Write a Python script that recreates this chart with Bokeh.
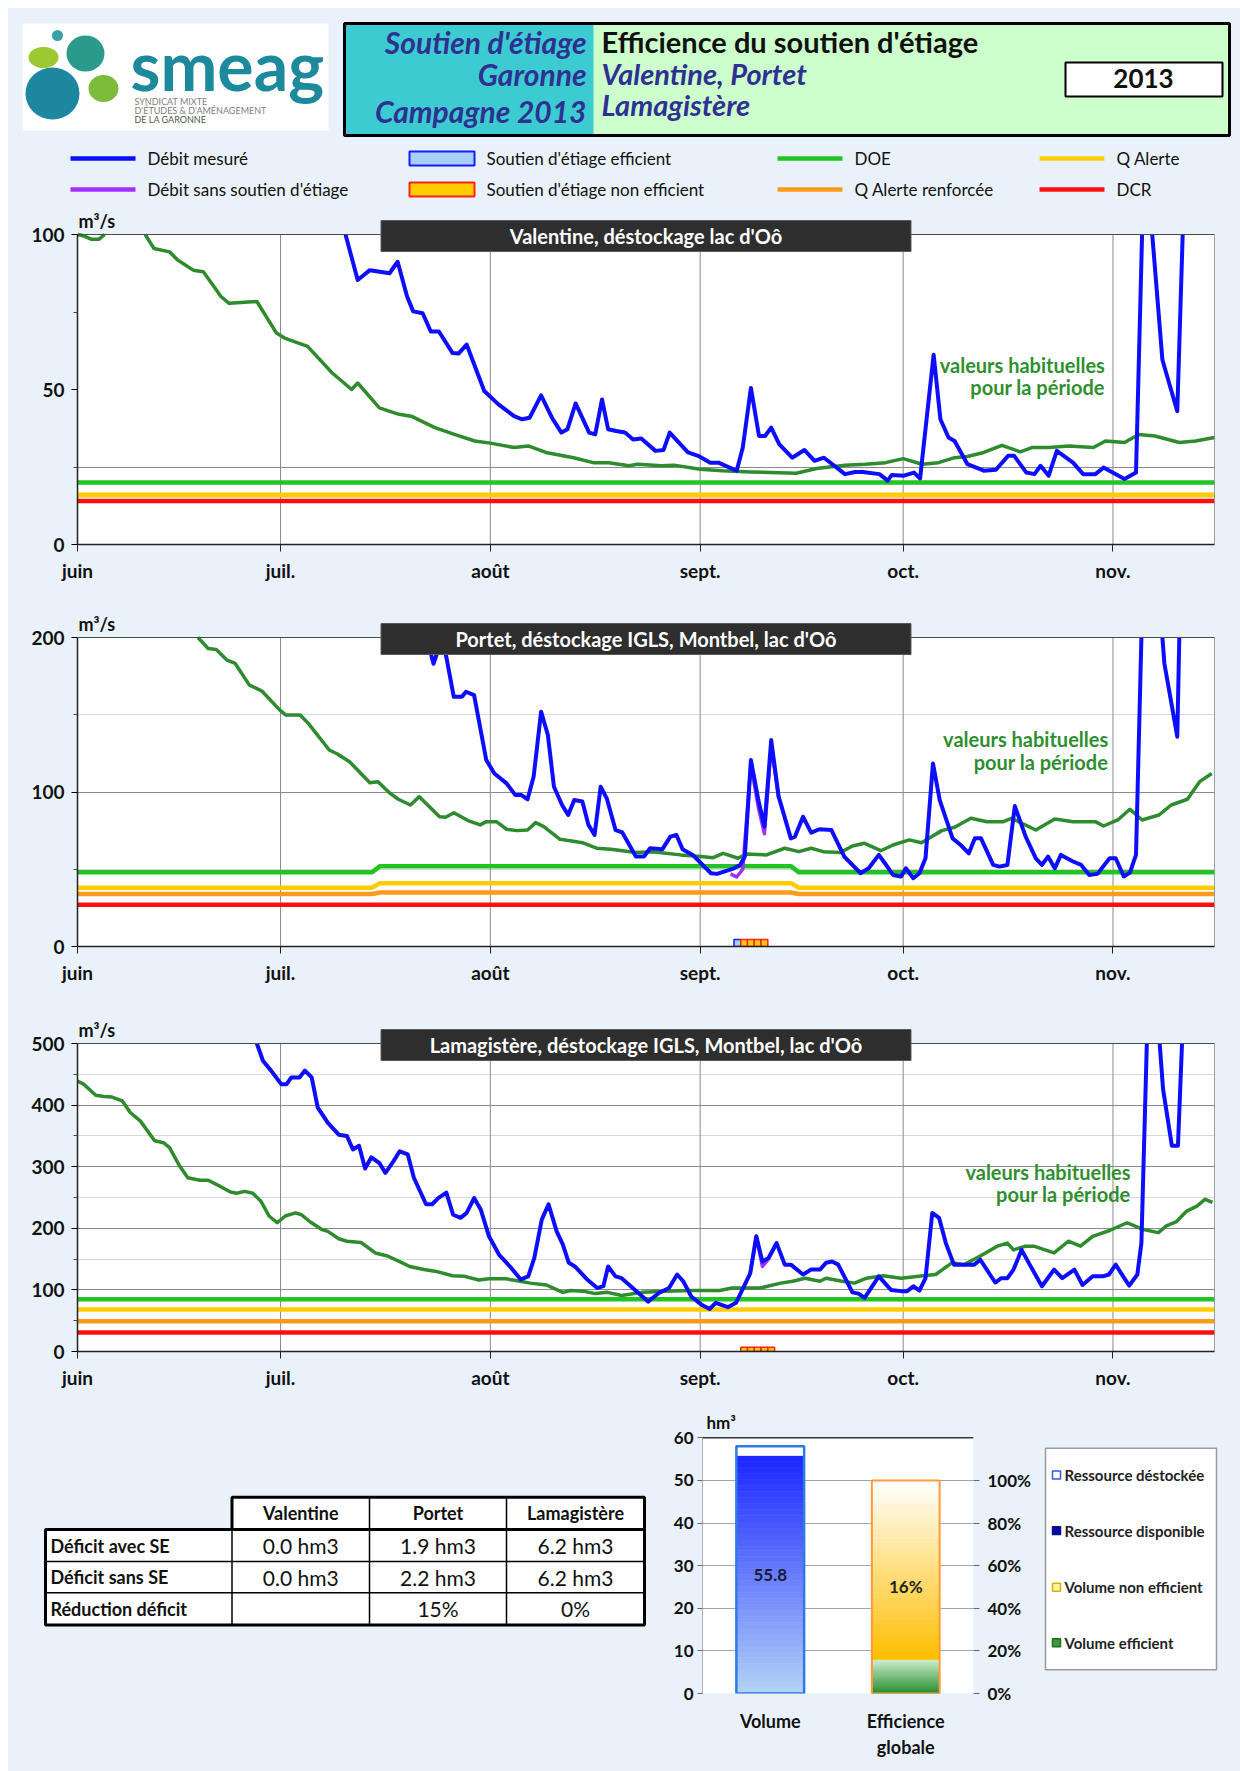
import math
from bokeh.plotting import figure
from bokeh.models import Range1d, FactorRange, FixedTicker, LinearAxis, Label, BoxAnnotation, Span
from bokeh.layouts import row
from bokeh.embed import file_html
from bokeh.resources import INLINE
from bokeh.core.properties import value

BG = "#e9f2fb"
FONT = "Lato"
NAVY = "#2e3192"
BLUE = "#0d0dff"
PURPLE = "#a030ff"
DKGREEN = "#2e8b2e"
C_DOE = "#22c322"
C_QA = "#ffcc00"
C_QAR = "#ff9a1a"
C_DCR = "#ff1010"

# ---------------- data ----------------
MONTH_DAYS = [0, 30, 61, 92, 122, 153]          # days since 1 June
MONTH_LABELS = ["juin", "juil.", "août", "sept.", "oct.", "nov."]
DAY_END = 168

# Chart 1 : Valentine (m3/s) ; None = gap (off scale)
C1_GREEN = [(0, 100), (1, 99.5), (2, 98.5), (3.2, 98.5), (4, 100), None, (10, 100), (11.3, 95.5), (13.6, 94.4),
            (14.8, 91.8), (17.1, 88.5), (18.6, 88.0), (21.2, 80.0), (22.4, 77.8), (26.5, 78.4), (29.4, 68.2),
            (30.6, 66.6), (34.0, 63.9), (37.6, 55.4), (40.5, 50.0), (41.4, 52.1), (44.6, 44.1), (47.5, 42.0),
            (49.3, 41.4), (52.8, 37.7), (55.7, 35.5), (58.7, 33.4), (61.0, 32.7), (64.5, 31.3), (66.6, 31.8),
            (69.2, 29.7), (73.3, 28.0), (76.2, 26.4), (78.5, 26.4), (81.5, 25.4), (82.7, 25.9), (86.3, 25.4),
            (88.1, 25.6), (92.0, 24.3), (95.3, 23.8), (99.5, 23.4), (106.2, 23.0), (109.2, 24.5), (113.4, 25.6),
            (116.4, 25.9), (119.4, 26.4), (122.0, 27.7), (124.8, 25.9), (127.2, 26.4), (129.6, 28.0),
            (131.5, 28.4), (133.9, 29.7), (136.6, 32.0), (139.3, 29.9), (141.1, 31.3), (143.5, 31.3),
            (146.5, 31.8), (150.1, 31.3), (151.9, 33.4), (154.7, 32.9), (156.8, 35.5), (159.2, 35.0),
            (162.8, 32.9), (165.2, 33.4), (168.0, 34.5)]
C1_BLUE = [(39.6, 100), (41.4, 85.3), (43.2, 88.5), (46.1, 87.5), (47.3, 91.2), (48.7, 80), (49.6, 75.2),
           (51, 74.6), (52.2, 68.7), (53.4, 68.7), (55.4, 61.8), (56.3, 61.6), (57.5, 64.5), (60.1, 49.5),
           (62.2, 45.2), (64.5, 41.4), (65.7, 40.4), (66.8, 40.9), (68.5, 48.1), (70.1, 40.9), (71.5, 36.1),
           (72.4, 37.2), (73.6, 45.5), (75.6, 36.1), (76.5, 35.5), (77.5, 46.8), (78.4, 37.2), (79.6, 36.6),
           (80.9, 36.1), (82.1, 33.9), (83.3, 34.2), (85.4, 30.2), (86.6, 30.5), (87.5, 36.1), (90.2, 29.7),
           (91.7, 28.6), (93.5, 26.4), (94.7, 26.4), (97.4, 23.8), (98.3, 31.3), (99.5, 50.5), (100.7, 35),
           (101.6, 35), (102.5, 37.7), (103.7, 32.3), (105.6, 28), (107.4, 30.5), (108.9, 27), (110.3, 28),
           (113.4, 22.7), (114.9, 23.4), (116, 23.4), (118.5, 22.7), (119.7, 20.6), (120.3, 22.4),
           (122.1, 22.2), (123.6, 23.2), (124.5, 21.3), (126.5, 61.2), (127.5, 40.4), (128.7, 34.5),
           (129.6, 33.4), (131.5, 25.9), (133.9, 23.8), (135.7, 24.1), (137.5, 28.6), (138.4, 28.6),
           (140.2, 23.2), (141.4, 22.7), (142.3, 25.4), (143.5, 22.2), (144.7, 30.2), (147.1, 26.4),
           (148.6, 22.7), (150.4, 22.7), (151.6, 24.8), (154.7, 21.1), (156.4, 23.2), (157.3, 100), None,
           (158.8, 100), (160.3, 59.6), (162.5, 43), (163.3, 100)]
C1_DOE = [(0, 20), (168, 20)]
C1_QA = [(0, 16), (168, 16)]
C1_QAR = [(0, 16), (168, 16)]
C1_DCR = [(0, 14), (168, 14)]

# Chart 2 : Portet
C2_GREEN = [(17.8, 200), (19.3, 192.9), (20.5, 192.2), (22.1, 185.3), (23.3, 183.2), (25.4, 169.2),
            (27.2, 165.5), (29.9, 153), (30.8, 149.8), (32.9, 149.8), (34.1, 144.4), (37.2, 127.2),
            (38.4, 124.6), (40.2, 119.6), (43.2, 106), (44.4, 106.7), (46.2, 99.1), (47.4, 95.3), (49.2, 91.6),
            (50.5, 97), (53.5, 84), (54.4, 83.6), (55.6, 86.6), (57.7, 81.5), (59.5, 78.7), (60.4, 80.8),
            (61.9, 80.8), (63.4, 75.9), (64.9, 75), (66.5, 75.4), (67.7, 80.2), (68.9, 77.6), (71.3, 69.4),
            (72.8, 68.5), (74.6, 67.2), (76.7, 63.6), (78.8, 62.9), (82.5, 60.8), (84.9, 61.4), (89.1, 59.3),
            (92.1, 58.2), (93.9, 57.5), (95.4, 60.3), (97.6, 57.1), (98.8, 59.9), (101.8, 59.3), (104.5, 63.6),
            (106.6, 61.4), (108.4, 63.6), (110.2, 61.4), (112.7, 60.8), (114.5, 65.1), (116.3, 66.8),
            (118.7, 62), (120.5, 65.7), (122.9, 69), (124.7, 67.2), (127.7, 75), (129.6, 77.2), (132, 83),
            (134.4, 80.8), (136.8, 80.8), (138, 83), (141.6, 75.4), (144.4, 82.5), (147.1, 80.8),
            (150.4, 80.8), (151.6, 78), (153.7, 81.9), (155.5, 88.8), (157.3, 81.9), (159.8, 85.1),
            (161.6, 91.6), (164, 95.3), (165.8, 106.7), (167.6, 112)]
C2_BLUE = [(51.6, 200), (52.6, 183), (53.7, 197), (54.3, 192), (55.6, 161.6), (56.8, 161.6), (57.4, 164.9),
           (58.6, 162.7), (60.4, 120.7), (61.6, 112), (63.4, 105.6), (64.7, 98), (65.6, 98), (66.5, 95.3),
           (67.4, 110), (68.5, 152), (69.5, 136.9), (70.4, 103.4), (71.6, 91.6), (72.5, 85.1), (73.4, 94.8),
           (74.6, 93.8), (75.5, 78.7), (76.4, 72.2), (77.3, 103.4), (78.2, 95.9), (79.5, 75.4), (80.5, 73.8),
           (82.5, 58.2), (83.7, 58.2), (84.6, 63.6), (86.4, 62.9), (87.6, 71.1), (88.5, 72.2), (89.4, 62.9),
           (90.9, 59.3), (93.6, 47.4), (94.5, 47), (97, 50.6), (97.9, 52.8), (98.6, 58.2), (99.5, 120.7),
           (100.6, 94.8), (101.5, 77.6), (102.5, 133.6), (103.6, 97), (105.4, 70), (106, 71.1), (107.2, 84),
           (108.4, 73.7), (109.6, 75.9), (111.4, 75.4), (113.3, 58.2), (115.7, 47.4), (116.9, 50.6),
           (118.4, 59.3), (119.3, 53.9), (120.5, 46.3), (121.7, 45.3), (122.4, 50.6), (123.5, 44.2),
           (124.4, 47.4), (125.3, 57.1), (126.4, 118.5), (127.4, 94.8), (129.3, 70), (130.5, 65.7),
           (131.7, 60.3), (132.6, 70), (133.5, 70), (135.3, 52.8), (136.2, 51.7), (137.4, 52.8), (138.5, 90.9),
           (140.1, 71.1), (141.6, 57.1), (142.5, 52.8), (143.4, 58.2), (144.4, 50.6), (145.3, 59.3),
           (147.1, 55), (148.3, 52.8), (149.5, 46.3), (150.7, 47), (152.5, 57.1), (153.4, 57.1),
           (154.6, 45.3), (155.5, 47.8), (156.4, 59.3), (157.2, 200), None, (160.3, 200), (160.6, 183),
           (162.5, 135.8), (162.8, 200)]
C2_PURPLE = [(96.5, 47), (97.4, 45), (98.3, 50), (99.5, 118), (100.6, 90), (101.5, 73), (102.5, 130), (103.6, 96)]
C2_DOE = [(0, 48), (43.5, 48), (44.7, 52), (105.4, 52), (106.6, 48), (168, 48)]
C2_QA = [(0, 38), (43.5, 38), (44.7, 41), (105.4, 41), (106.6, 38), (168, 38)]
C2_QAR = [(0, 34), (43.5, 34), (44.7, 35), (105.4, 35), (106.6, 34), (168, 34)]
C2_DCR = [(0, 27), (168, 27)]
C2_EFF_DAYS = [97]
C2_NEFF_DAYS = [98, 99, 100, 101]
C2_BAR_H = 4.5

# Chart 3 : Lamagistère
C3_GREEN = [(0, 439), (0.9, 434), (2.7, 416), (3.9, 414), (5.1, 413), (6.6, 407), (7.8, 388), (9.3, 374),
            (11.4, 342), (12.7, 339), (13.6, 331), (15.1, 301), (16.3, 282), (18.1, 278), (19.3, 278),
            (21.1, 268), (22.6, 259), (23.5, 257), (24.7, 260), (25.9, 257), (27.1, 244), (28.3, 220),
            (29.5, 209), (30.7, 220), (32.2, 225), (33.1, 222), (34.3, 211), (36.1, 198), (37, 195), (38.6, 183),
            (39.8, 179), (41.9, 177), (44, 160), (45.8, 155), (47.6, 146), (49.1, 138), (51.2, 133), (53, 130),
            (55.4, 123), (57.2, 122), (59.3, 116), (60.8, 118), (63.3, 118), (65.4, 114), (66.9, 111),
            (69.3, 108), (71.7, 96), (72.9, 99), (74.7, 98), (76.5, 94), (78.3, 96), (80.4, 91), (83.4, 96),
            (87.1, 98), (90.7, 99), (94.9, 99), (96.7, 103), (100.9, 103), (103.9, 111), (105.7, 114),
            (107.5, 119), (109.7, 114), (110.6, 119), (113, 114), (114.8, 111), (116.6, 119), (119, 123),
            (121.7, 119), (125, 123), (126.8, 125), (129.2, 144), (131, 141), (133.4, 155), (135.9, 171),
            (137.4, 176), (138.3, 165), (140.1, 171), (141.3, 171), (144.3, 160), (146.4, 179), (148.2, 171),
            (150, 187), (152.4, 196), (155.1, 209), (157.5, 198), (159.7, 193), (160.9, 204), (162.4, 211),
            (163.9, 228), (165.4, 236), (166.6, 247), (167.7, 242)]
C3_BLUE = [(26.5, 500), (27.4, 472), (28.6, 456), (30.1, 434), (30.9, 434), (31.6, 445), (32.8, 445),
           (33.6, 456), (34.6, 445), (35.5, 396), (37, 371), (38.6, 352), (39.8, 350), (40.7, 328), (41.6, 334),
           (42.5, 297), (43.4, 315), (44.6, 306), (45.5, 290), (46.7, 309), (47.6, 325), (48.8, 320),
           (49.7, 282), (51.5, 239), (52.4, 239), (53.3, 249), (54.5, 258), (55.5, 222), (56.6, 217),
           (57.5, 225), (58.6, 249), (59.6, 230), (60.8, 187), (62.3, 157), (63.9, 138), (65.5, 117),
           (66.6, 122), (67.5, 152), (68.6, 214), (69.6, 239), (70.8, 195), (71.7, 174), (72.6, 144),
           (73.5, 138), (75.3, 117), (76.8, 103), (77.7, 106), (78.4, 138), (79.5, 122), (80.4, 119),
           (84.3, 81), (85.9, 95), (87.4, 103), (88.6, 125), (89.5, 114), (90.7, 89), (92.2, 76), (93.4, 69),
           (94.3, 79), (96.1, 72), (97.3, 79), (99.4, 127), (100.3, 187), (101.2, 146), (102.1, 152),
           (103.3, 176), (104.5, 141), (105.4, 141), (107.2, 125), (108.4, 133), (109.7, 133), (110.6, 144),
           (111.5, 146), (112.4, 141), (114.5, 96), (115.4, 94), (116.3, 87), (118.4, 122), (120.2, 100),
           (121.7, 98), (122.6, 98), (123.5, 106), (124.4, 99), (125.3, 119), (126.3, 225), (127.3, 217),
           (128.3, 176), (129.5, 141), (130.7, 141), (132.5, 141), (133.4, 149), (134.7, 127), (135.6, 112),
           (136.5, 119), (137.4, 119), (138.3, 133), (139.5, 165), (140.7, 141), (142.5, 106), (144.3, 133),
           (145.5, 119), (147.3, 133), (148.5, 108), (150, 122), (151.5, 122), (152.4, 125), (153.4, 141),
           (154.5, 122), (155.4, 107), (156.6, 125), (157.2, 176), (158, 500), None, (159.9, 500),
           (160.4, 426), (161.7, 334), (162.6, 334), (163.2, 500)]
C3_PURPLE = [(99.4, 127), (100.3, 187), (101.2, 138), (102.1, 150), (103.3, 176)]
C3_DOE = [(0, 85), (168, 85)]
C3_QA = [(0, 68), (168, 68)]
C3_QAR = [(0, 49), (168, 49)]
C3_DCR = [(0, 31), (168, 31)]
C3_NEFF_DAYS = [98, 99, 100, 101, 102]
C3_BAR_H = 7

# Table
TABLE_COLS = ["Valentine", "Portet", "Lamagistère"]
TABLE_ROWS = ["Déficit avec SE", "Déficit sans SE", "Réduction déficit"]
DEFICIT_AVEC = [0.0, 1.9, 6.2]
DEFICIT_SANS = [0.0, 2.2, 6.2]
REDUCTION = [None, 15, 0]

# Bar chart
BAR_CATS = ["Volume", "Efficience\nglobale"]
VOL_TOTAL = 58.0
VOL_DESTOCKE = 55.8
EFFICIENCE = 16
LEFT_TICKS = [0, 10, 20, 30, 40, 50, 60]
PCT_TICKS = [0, 20, 40, 60, 80, 100]

# ---------------- helpers ----------------
NaN = float("nan")


def split(pairs):
    xs, ys = [], []
    for pt in pairs:
        if pt is None:
            xs.append(NaN)
            ys.append(NaN)
        else:
            xs.append(pt[0])
            ys.append(pt[1])
    return xs, ys


def mix(c1, c2, t):
    a = [int(c1[i:i + 2], 16) for i in (1, 3, 5)]
    b = [int(c2[i:i + 2], 16) for i in (1, 3, 5)]
    return "#%02x%02x%02x" % tuple(round(a[i] + (b[i] - a[i]) * t) for i in range(3))


def lab(p, x, y, s, size="15px", color="#111111", style="normal", align="left", baseline="middle",
        font=FONT, **kw):
    p.add_layout(Label(x=x, y=y, text=s, text_font=font, text_font_size=size, text_font_style=style,
                       text_color=color, text_align=align, text_baseline=baseline, **kw))


def page_fig(x0, x1, y0, y1, bottom=0):
    # frame covers page area x0..x1, y0..y1 (page pixel coordinates, y downwards)
    p = figure(width=int(x1 - x0), height=int(y1 - y0 + bottom), x_range=Range1d(x0, x1),
               y_range=Range1d(y1, y0), output_backend="svg", toolbar_location=None, title=None,
               x_axis_type=None, y_axis_type=None, min_border_left=0, min_border_right=0, min_border_top=0,
               min_border_bottom=bottom, background_fill_color=BG, border_fill_color=BG,
               outline_line_color=None)
    return p


def make_chart(title, ymax, ytick_vals, yminor, grid_major, grid_minor, thresholds, green, blue, purple,
               eff_days, neff_days, bar_h, note_x, note_y, height, top, bottom):
    left, right = 69, 18
    ph = height - top - bottom
    upp = ymax / ph
    dpp = DAY_END / (1224 - left - right)
    p = figure(width=1224, height=height, x_range=Range1d(0, DAY_END), y_range=Range1d(0, ymax + top * upp),
               output_backend="svg", toolbar_location=None, title=None,
               min_border_left=left, min_border_right=right, min_border_top=0, min_border_bottom=bottom,
               background_fill_color=BG, border_fill_color=BG, outline_line_color=None)
    p.add_layout(BoxAnnotation(left=0, right=DAY_END, bottom=0, top=ymax, fill_color="white", fill_alpha=1.0,
                               line_color=None, level="image"))
    xa = p.xaxis[0]
    xa.ticker = FixedTicker(ticks=MONTH_DAYS)
    xa.major_label_overrides = {d: m for d, m in zip(MONTH_DAYS, MONTH_LABELS)}
    xa.major_tick_out = 7
    xa.major_tick_in = 0
    xa.minor_tick_line_color = None
    xa.axis_line_color = "#222222"
    xa.axis_line_width = 1.5
    xa.major_tick_line_color = "#222222"
    xa.major_label_text_font = FONT
    xa.major_label_text_font_size = "19px"
    xa.major_label_text_font_style = "bold"
    xa.major_label_text_color = "#111111"
    xa.major_label_standoff = 7
    ya = p.yaxis[0]
    ya.bounds = (0, ymax)
    ya.ticker = FixedTicker(ticks=ytick_vals, minor_ticks=yminor)
    ya.major_tick_out = 6
    ya.major_tick_in = 0
    ya.minor_tick_out = 4
    ya.minor_tick_in = 0
    ya.minor_tick_line_color = "#444444"
    ya.axis_line_color = "#222222"
    ya.axis_line_width = 1.5
    ya.major_label_text_font = FONT
    ya.major_label_text_font_size = "19px"
    ya.major_label_text_font_style = "bold"
    ya.major_label_text_color = "#111111"
    ya.major_label_standoff = 7
    p.xgrid.grid_line_color = None
    p.ygrid.ticker = FixedTicker(ticks=grid_major, minor_ticks=grid_minor)
    p.ygrid.grid_line_color = "#8a8a8a"
    p.ygrid.minor_grid_line_color = "#d8d8d8" if grid_minor else None

    months = MONTH_DAYS[1:]
    p.segment(x0=months, y0=[0] * len(months), x1=months, y1=[ymax] * len(months),
              line_color="#8a8a8a", line_width=1)
    for pairs, color in thresholds:
        xs, ys = split(pairs)
        p.line(xs, ys, line_color=color, line_width=4.5)
    if eff_days:
        p.vbar(x=[d + 0.5 for d in eff_days], width=1, bottom=0, top=bar_h,
               fill_color="#a8d0ff", line_color="#1a1aff", line_width=1.5)
    if neff_days:
        p.vbar(x=[d + 0.5 for d in neff_days], width=1, bottom=0, top=bar_h,
               fill_color="#ffcc00", line_color="#ff2020", line_width=1.5)
    xs, ys = split(green)
    p.line(xs, ys, line_color=DKGREEN, line_width=3.5, line_join="round")
    if purple:
        xs, ys = split(purple)
        p.line(xs, ys, line_color=PURPLE, line_width=3.5, line_join="round")
    xs, ys = split(blue)
    p.line(xs, ys, line_color=BLUE, line_width=4, line_join="round")
    p.quad(left=[0], right=[DAY_END], bottom=[0], top=[ymax], fill_color=None, line_color="#4a4a4a",
           line_width=1)

    # title box
    p.quad(left=[DAY_END / 2 - 265 * dpp], right=[DAY_END / 2 + 265 * dpp], top=[ymax + 14 * upp],
           bottom=[ymax - 17 * upp], fill_color="#2e2e2e", line_color="#5a5a5a", line_width=1)
    lab(p, DAY_END / 2, ymax - 1.5 * upp, title, size="20px", color="white", style="bold", align="center")
    lab(p, 0, ymax + 3 * upp, "m³/s", size="18px", style="bold", baseline="bottom", x_offset=1)
    lab(p, note_x, note_y[0], "valeurs habituelles", size="20px", color="#2f8f2f", style="bold", align="right")
    lab(p, note_x, note_y[1], "pour la période", size="20px", color="#2f8f2f", style="bold", align="right")
    return p


# ---------------- header ----------------
pH = page_fig(8, 1232, 8, 208)
pH.quad(left=[22], right=[328], top=[23], bottom=[130], fill_color="white", line_color=None)
pH.ellipse(x=[52, 85, 43, 103, 57], y=[93, 53, 57, 88, 35], width=[54, 38, 30, 30, 11],
           height=[52, 36, 21, 27, 11],
           fill_color=["#1e87a0", "#2a9a8a", "#9cc832", "#7dbb3a", "#3aa0a8"], line_color=None)
lab(pH, 130, 64, "smeag", size="68px", color="#1c8a9c", style="bold", baseline="middle")
lab(pH, 134, 101, "SYNDICAT MIXTE", size="9px", color="#808080")
lab(pH, 134, 110, "D'ÉTUDES & D'AMÉNAGEMENT", size="9px", color="#808080")
lab(pH, 134, 119, "DE LA GARONNE", size="9px", color="#555555")

pH.quad(left=[344], right=[1229], top=[23], bottom=[135], fill_color="#ccffcc", line_color=None)
pH.quad(left=[344], right=[593], top=[23], bottom=[135], fill_color="#3ccbd0", line_color=None)
pH.quad(left=[344], right=[1229], top=[23], bottom=[135], fill_color=None, line_color="black", line_width=3)
lab(pH, 586, 41, "Soutien d'étiage", size="30px", color=NAVY, style="bold italic", align="right")
lab(pH, 586, 73, "Garonne", size="30px", color=NAVY, style="bold italic", align="right")
lab(pH, 586, 110, "Campagne 2013", size="30px", color=NAVY, style="bold italic", align="right")
lab(pH, 601, 41, "Efficience du soutien d'étiage", size="29px", color="#111111", style="bold")
lab(pH, 601, 73, "Valentine, Portet", size="29px", color=NAVY, style="bold italic")
lab(pH, 601, 104, "Lamagistère", size="29px", color=NAVY, style="bold italic")
pH.quad(left=[1065], right=[1222], top=[62], bottom=[96], fill_color="white", line_color="black", line_width=2)
lab(pH, 1143, 78, "2013", size="26px", style="bold", align="center")

# legend
LEG_COLS = [70, 409, 777, 1039]
LEG_ROWS = [158, 189]
legend_items = [
    (0, 0, "Débit mesuré", "line", BLUE, None),
    (0, 1, "Débit sans soutien d'étiage", "line", PURPLE, None),
    (1, 0, "Soutien d'étiage efficient", "box", "#a8d0ff", "#1a1aff"),
    (1, 1, "Soutien d'étiage non efficient", "box", "#ffcc00", "#ff2020"),
    (2, 0, "DOE", "line", C_DOE, None),
    (2, 1, "Q Alerte renforcée", "line", C_QAR, None),
    (3, 0, "Q Alerte", "line", C_QA, None),
    (3, 1, "DCR", "line", C_DCR, None),
]
for ci, ri, text, kind, c1, c2 in legend_items:
    x0 = LEG_COLS[ci]
    y0 = LEG_ROWS[ri]
    if kind == "line":
        pH.line([x0, x0 + 65], [y0, y0], line_color=c1, line_width=4.5)
    else:
        pH.quad(left=[x0], right=[x0 + 65], top=[y0 - 7], bottom=[y0 + 7], fill_color=c1, line_color=c2,
                line_width=2)
    lab(pH, x0 + 77, y0, text, size="17px", color="#111111")

# ---------------- charts ----------------
p1 = make_chart("Valentine, déstockage lac d'Oô", 100, [0, 50, 100], [25, 75], [25], [],
                [(C1_DCR, C_DCR), (C1_QAR, C_QAR), (C1_QA, C_QA), (C1_DOE, C_DOE)],
                C1_GREEN, C1_BLUE, None, [], [], 0, 151.8, [57.8, 50.7], 382, 26, 46)
p2 = make_chart("Portet, déstockage IGLS, Montbel, lac d'Oô", 200, [0, 100, 200], [50, 150], [100], [50, 150],
                [(C2_DCR, C_DCR), (C2_QAR, C_QAR), (C2_QA, C_QA), (C2_DOE, C_DOE)],
                C2_GREEN, C2_BLUE, C2_PURPLE, C2_EFF_DAYS, C2_NEFF_DAYS, C2_BAR_H, 152.3, [134.3, 119.7],
                400, 47, 44)
p3 = make_chart("Lamagistère, déstockage IGLS, Montbel, lac d'Oô", 500, [0, 100, 200, 300, 400, 500],
                [50, 150, 250, 350, 450], [100, 200, 300, 400], [50, 150, 250, 350, 450],
                [(C3_DCR, C_DCR), (C3_QAR, C_QAR), (C3_QA, C_QA), (C3_DOE, C_DOE)],
                C3_GREEN, C3_BLUE, C3_PURPLE, [], C3_NEFF_DAYS, C3_BAR_H, 155.6, [291.9, 255.2],
                410, 53, 49)

# ---------------- bottom row (all with identical top/bottom borders) ----------------
BOT_BORDER = 65
pA = page_fig(8, 650, 1400, 1695, bottom=BOT_BORDER)
COLX = [45, 231.5, 369, 506, 644]
ROWY = [1497.5, 1530, 1562, 1593.5, 1626]
pA.quad(left=[COLX[1]], right=[COLX[4]], top=[ROWY[0]], bottom=[ROWY[1]], fill_color="white", line_color=None)
pA.quad(left=[COLX[0]], right=[COLX[4]], top=[ROWY[1]], bottom=[ROWY[4]], fill_color="white", line_color=None)
for xv in COLX[1:4]:
    pA.line([xv, xv], [ROWY[0], ROWY[4]], line_color="black", line_width=1.5)
for yv in ROWY[2:4]:
    pA.line([COLX[0], COLX[4]], [yv, yv], line_color="black", line_width=1.5)
pA.quad(left=[COLX[1]], right=[COLX[4]], top=[ROWY[0]], bottom=[ROWY[1]], fill_color=None,
        line_color="black", line_width=3)
pA.quad(left=[COLX[0]], right=[COLX[4]], top=[ROWY[1]], bottom=[ROWY[4]], fill_color=None,
        line_color="black", line_width=3)
for j, name in enumerate(TABLE_COLS):
    lab(pA, (COLX[j + 1] + COLX[j + 2]) / 2, (ROWY[0] + ROWY[1]) / 2, name, size="18px", style="bold",
        align="center")
cells = [[f"{v:.1f} hm3" for v in DEFICIT_AVEC], [f"{v:.1f} hm3" for v in DEFICIT_SANS],
         ["" if v is None else f"{v}%" for v in REDUCTION]]
for i, rname in enumerate(TABLE_ROWS):
    yc = (ROWY[i + 1] + ROWY[i + 2]) / 2
    lab(pA, COLX[0] + 5, yc, rname, size="18px", style="bold")
    for j in range(3):
        if cells[i][j]:
            lab(pA, (COLX[j + 1] + COLX[j + 2]) / 2, yc, cells[i][j], size="21px", color="#111111",
                align="center")

# bar chart: frame spans page y 1400..1695, value 60 sits 37.6 px below the frame top
B_TOP = 37.6
B_PH = 295 - B_TOP
b_upp = 60 / B_PH
b_end = 60 + B_TOP * b_upp
pB = figure(width=390, height=360, x_range=FactorRange(*BAR_CATS), y_range=Range1d(0, b_end),
            output_backend="svg", toolbar_location=None, title=None,
            min_border_left=52, min_border_right=67, min_border_top=0, min_border_bottom=BOT_BORDER,
            background_fill_color=BG, border_fill_color=BG, outline_line_color=None)
pB.extra_y_ranges = {"pct": Range1d(0, b_end * 2)}
ax_r = LinearAxis(y_range_name="pct")
pB.add_layout(ax_r, "right")
pB.add_layout(BoxAnnotation(bottom=0, top=60, fill_color="white", fill_alpha=1.0, line_color=None,
                            level="image"))
pB.xgrid.grid_line_color = None
pB.ygrid.ticker = FixedTicker(ticks=[10, 20, 30, 40, 50])
pB.ygrid.grid_line_color = "#a6a6a6"
pB.add_layout(Span(location=60, dimension="width", line_color="#333333", line_width=1.5))

N = 40
vb = [VOL_DESTOCKE * i / N for i in range(N)]
vt = [VOL_DESTOCKE * (i + 1) / N for i in range(N)]
vc = [mix("#b3d3f7", "#1a26ff", (i + 0.5) / N) for i in range(N)]
pB.vbar(x=[BAR_CATS[0]] * N, width=0.5, bottom=vb, top=vt, fill_color=vc, line_color=vc, line_width=0.6)
pB.vbar(x=[BAR_CATS[0]], width=0.5, bottom=[VOL_DESTOCKE], top=[VOL_TOTAL], fill_color="white", line_color=None)
pB.vbar(x=[BAR_CATS[0]], width=0.5, bottom=0, top=[VOL_TOTAL], fill_color=None, line_color="#2d7be6",
        line_width=2.5)

gb = [EFFICIENCE * i / N for i in range(N)]
gt = [EFFICIENCE * (i + 1) / N for i in range(N)]
gc = [mix("#1e8a28", "#cdeecd", (i + 0.5) / N) for i in range(N)]
pB.vbar(x=[BAR_CATS[1]] * N, width=0.5, bottom=gb, top=gt, fill_color=gc, line_color=gc, line_width=0.6,
        y_range_name="pct")
ob = [EFFICIENCE + (100 - EFFICIENCE) * i / N for i in range(N)]
ot = [EFFICIENCE + (100 - EFFICIENCE) * (i + 1) / N for i in range(N)]
oc = [mix("#ffbe00", "#ffffff", (i + 0.5) / N) for i in range(N)]
pB.vbar(x=[BAR_CATS[1]] * N, width=0.5, bottom=ob, top=ot, fill_color=oc, line_color=oc, line_width=0.6,
        y_range_name="pct")
pB.vbar(x=[BAR_CATS[1]], width=0.5, bottom=0, top=[100], fill_color=None, line_color="#ff9a3c", line_width=2,
        y_range_name="pct")
pB.text(x=[BAR_CATS[0]], y=[VOL_DESTOCKE / 2], text=[f"{VOL_DESTOCKE:.1f}"], text_align="center",
        text_baseline="middle", text_font=value(FONT), text_font_size=value("17px"), text_font_style="bold",
        text_color="#1a1a3a")
pB.text(x=[BAR_CATS[1]], y=[100 / 2], text=[f"{EFFICIENCE}%"], text_align="center", text_baseline="middle",
        text_font=value(FONT), text_font_size=value("17px"), text_font_style="bold", text_color="#222222",
        y_range_name="pct")

ya = pB.yaxis[0]
ya.bounds = (0, 60)
ya.ticker = FixedTicker(ticks=LEFT_TICKS)
ya.axis_line_color = "#b0b0b0"
ya.major_tick_out = 5
ya.major_tick_in = 0
ya.major_tick_line_color = "#666666"
ya.minor_tick_line_color = None
ya.major_label_text_font = FONT
ya.major_label_text_font_size = "17px"
ya.major_label_text_font_style = "bold"
ya.major_label_text_color = "#111111"
ya.major_label_standoff = 4
ax_r.ticker = FixedTicker(ticks=PCT_TICKS)
ax_r.major_label_overrides = {t: f"{t}%" for t in PCT_TICKS}
ax_r.axis_line_color = None
ax_r.major_tick_out = 6
ax_r.major_tick_in = 0
ax_r.major_tick_line_color = "#666666"
ax_r.minor_tick_line_color = None
ax_r.major_label_text_font = FONT
ax_r.major_label_text_font_size = "17px"
ax_r.major_label_text_font_style = "bold"
ax_r.major_label_text_color = "#111111"
ax_r.major_label_standoff = 8
xa = pB.xaxis[0]
xa.axis_line_color = None
xa.major_tick_line_color = None
xa.minor_tick_line_color = None
xa.major_label_text_font = FONT
xa.major_label_text_font_size = "18px"
xa.major_label_text_font_style = "bold"
xa.major_label_text_color = "#111111"
xa.major_label_standoff = 10
lab(pB, 0, 60, "hm³", size="17px", style="bold", baseline="bottom", x_offset=4, y_offset=5)

# legend of the bar chart
pC = page_fig(1040, 1232, 1400, 1695, bottom=BOT_BORDER)
pC.quad(left=[1045], right=[1216], top=[1448], bottom=[1671], fill_color="white", line_color="#9a9a9a",
        line_width=1.5)
BAR_LEGEND = ["Ressource déstockée", "Ressource disponible", "Volume non efficient", "Volume efficient"]
BAR_LEGEND_FILL = ["white", "#0a0a9a", "#fff3a0", "#3a9a3a"]
BAR_LEGEND_LINE = ["#3355ff", "#0a0a9a", "#d4b400", "#1f6f1f"]
LEG_Y = [1475, 1531, 1588, 1644]
pC.rect(x=[1056] * 4, y=LEG_Y, width=8, height=8, fill_color=BAR_LEGEND_FILL, line_color=BAR_LEGEND_LINE,
        line_width=1.5)
for yv, t in zip(LEG_Y, BAR_LEGEND):
    lab(pC, 1064, yv, t, size="15px", style="bold", color="#222222")

bottom_row = row(pA, pB, pC, spacing=0)
html = file_html([pH, p1, p2, p3, bottom_row], INLINE, title="Efficience du soutien d'étiage 2013")
page_css = ("<style>html{background:#ffffff;} body{background:%s; margin:8px 0 0 8px !important; "
            "height:auto !important; min-height:calc(100vh - 8px);}</style>" % BG)
html = html.replace("</head>", page_css + "</head>", 1)
open("out.html", "w").write(html)
